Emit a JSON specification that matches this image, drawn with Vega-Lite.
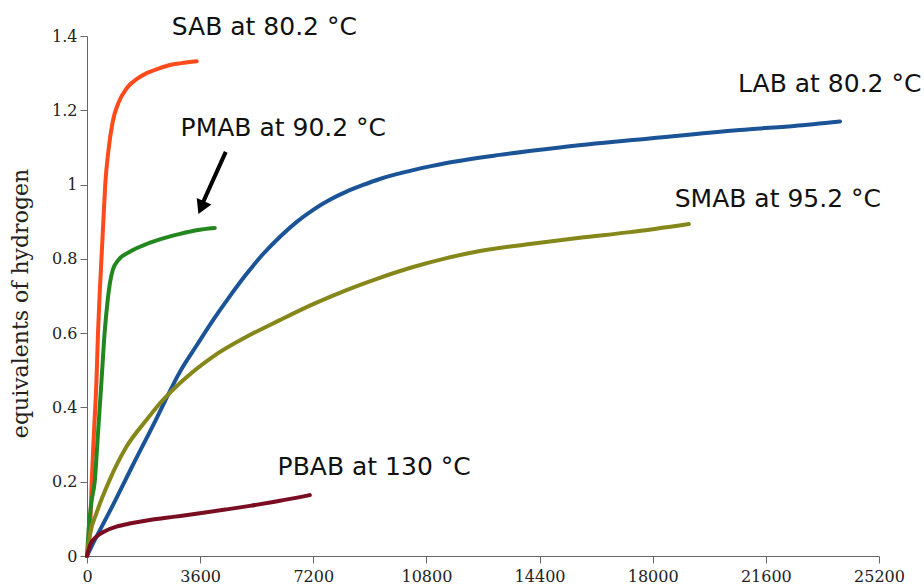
{
  "$schema": "https://vega.github.io/schema/vega-lite/v6.json",
  "width": 792,
  "height": 520,
  "autosize": "none",
  "padding": {"left": 87, "top": 36, "right": 45, "bottom": 30},
  "background": "white",
  "config": {"view": {"stroke": null}},
  "datasets": {
    "curves": [
      {"series": "SAB", "t": 0, "y": 0}, {"series": "SAB", "t": 100, "y": 0.08}, {"series": "SAB", "t": 150, "y": 0.2}, {"series": "SAB", "t": 220, "y": 0.33}, {"series": "SAB", "t": 300, "y": 0.47}, {"series": "SAB", "t": 350, "y": 0.6}, {"series": "SAB", "t": 400, "y": 0.7}, {"series": "SAB", "t": 460, "y": 0.8}, {"series": "SAB", "t": 520, "y": 0.9}, {"series": "SAB", "t": 580, "y": 1.0}, {"series": "SAB", "t": 680, "y": 1.09}, {"series": "SAB", "t": 820, "y": 1.17}, {"series": "SAB", "t": 1000, "y": 1.22}, {"series": "SAB", "t": 1270, "y": 1.26}, {"series": "SAB", "t": 1600, "y": 1.285}, {"series": "SAB", "t": 1900, "y": 1.3}, {"series": "SAB", "t": 2300, "y": 1.313}, {"series": "SAB", "t": 2640, "y": 1.322}, {"series": "SAB", "t": 3000, "y": 1.327}, {"series": "SAB", "t": 3490, "y": 1.332},
      {"series": "PMAB", "t": 0, "y": 0}, {"series": "PMAB", "t": 50, "y": 0.07}, {"series": "PMAB", "t": 150, "y": 0.15}, {"series": "PMAB", "t": 245, "y": 0.2}, {"series": "PMAB", "t": 350, "y": 0.33}, {"series": "PMAB", "t": 460, "y": 0.47}, {"series": "PMAB", "t": 560, "y": 0.6}, {"series": "PMAB", "t": 660, "y": 0.69}, {"series": "PMAB", "t": 740, "y": 0.74}, {"series": "PMAB", "t": 820, "y": 0.77}, {"series": "PMAB", "t": 1000, "y": 0.797}, {"series": "PMAB", "t": 1360, "y": 0.819}, {"series": "PMAB", "t": 1900, "y": 0.84}, {"series": "PMAB", "t": 2420, "y": 0.855}, {"series": "PMAB", "t": 3000, "y": 0.868}, {"series": "PMAB", "t": 3480, "y": 0.877}, {"series": "PMAB", "t": 4065, "y": 0.883},
      {"series": "LAB", "t": 0, "y": 0}, {"series": "LAB", "t": 200, "y": 0.035}, {"series": "LAB", "t": 722, "y": 0.12}, {"series": "LAB", "t": 1460, "y": 0.245}, {"series": "LAB", "t": 2210, "y": 0.37}, {"series": "LAB", "t": 2527, "y": 0.425}, {"series": "LAB", "t": 2951, "y": 0.495}, {"series": "LAB", "t": 3482, "y": 0.566}, {"series": "LAB", "t": 4011, "y": 0.635}, {"series": "LAB", "t": 4542, "y": 0.699}, {"series": "LAB", "t": 5073, "y": 0.759}, {"series": "LAB", "t": 5603, "y": 0.813}, {"series": "LAB", "t": 6134, "y": 0.859}, {"series": "LAB", "t": 6665, "y": 0.899}, {"series": "LAB", "t": 7196, "y": 0.932}, {"series": "LAB", "t": 7725, "y": 0.959}, {"series": "LAB", "t": 8256, "y": 0.981}, {"series": "LAB", "t": 8786, "y": 0.999}, {"series": "LAB", "t": 9317, "y": 1.015}, {"series": "LAB", "t": 9848, "y": 1.028}, {"series": "LAB", "t": 10377, "y": 1.039}, {"series": "LAB", "t": 10908, "y": 1.049}, {"series": "LAB", "t": 11440, "y": 1.058}, {"series": "LAB", "t": 13130, "y": 1.08}, {"series": "LAB", "t": 15040, "y": 1.1}, {"series": "LAB", "t": 17900, "y": 1.124}, {"series": "LAB", "t": 20770, "y": 1.147}, {"series": "LAB", "t": 22500, "y": 1.158}, {"series": "LAB", "t": 23960, "y": 1.17},
      {"series": "SMAB", "t": 0, "y": 0}, {"series": "SMAB", "t": 100, "y": 0.06}, {"series": "SMAB", "t": 300, "y": 0.115}, {"series": "SMAB", "t": 722, "y": 0.205}, {"series": "SMAB", "t": 1254, "y": 0.294}, {"series": "SMAB", "t": 1890, "y": 0.366}, {"series": "SMAB", "t": 2209, "y": 0.4}, {"series": "SMAB", "t": 2951, "y": 0.465}, {"series": "SMAB", "t": 4011, "y": 0.537}, {"series": "SMAB", "t": 5073, "y": 0.59}, {"series": "SMAB", "t": 6134, "y": 0.635}, {"series": "SMAB", "t": 7196, "y": 0.678}, {"series": "SMAB", "t": 8256, "y": 0.716}, {"series": "SMAB", "t": 9317, "y": 0.749}, {"series": "SMAB", "t": 10377, "y": 0.778}, {"series": "SMAB", "t": 11440, "y": 0.802}, {"series": "SMAB", "t": 12500, "y": 0.821}, {"series": "SMAB", "t": 14090, "y": 0.84}, {"series": "SMAB", "t": 15680, "y": 0.857}, {"series": "SMAB", "t": 17280, "y": 0.872}, {"series": "SMAB", "t": 19150, "y": 0.894},
      {"series": "PBAB", "t": 0, "y": 0}, {"series": "PBAB", "t": 100, "y": 0.03}, {"series": "PBAB", "t": 300, "y": 0.052}, {"series": "PBAB", "t": 600, "y": 0.068}, {"series": "PBAB", "t": 935, "y": 0.079}, {"series": "PBAB", "t": 1400, "y": 0.088}, {"series": "PBAB", "t": 1995, "y": 0.097}, {"series": "PBAB", "t": 2800, "y": 0.106}, {"series": "PBAB", "t": 3590, "y": 0.115}, {"series": "PBAB", "t": 4400, "y": 0.125}, {"series": "PBAB", "t": 5180, "y": 0.135}, {"series": "PBAB", "t": 6100, "y": 0.148}, {"series": "PBAB", "t": 7090, "y": 0.164}
    ],
    "labels": [
      {"label": "SAB at 80.2 °C", "t": 2697, "y": 1.403},
      {"label": "PMAB at 90.2 °C", "t": 2978, "y": 1.131},
      {"label": "LAB at 80.2 °C", "t": 20716, "y": 1.249},
      {"label": "SMAB at 95.2 °C", "t": 18700, "y": 0.94},
      {"label": "PBAB at 130 °C", "t": 6064, "y": 0.218}
    ],
    "arrow": [
      {"t": 4415, "y": 1.088, "t2": 3680, "y2": 0.95}
    ],
    "arrowhead": [
      {"t": 3635, "y": 0.938}
    ]
  },
  "layer": [
    {
      "data": {"name": "curves"},
      "mark": {"type": "line", "strokeWidth": 4, "interpolate": "monotone", "strokeCap": "round"},
      "encoding": {
        "x": {"field": "t", "type": "quantitative",
          "scale": {"domain": [0, 25200], "nice": false, "zero": false},
          "axis": {"values": [0, 3600, 7200, 10800, 14400, 18000, 21600, 25200], "format": "d", "title": null, "grid": false,
            "domainColor": "#666", "tickColor": "#666", "tickSize": 7, "labelFont": "DejaVu Serif", "labelFontSize": 16, "labelColor": "#222", "labelPadding": 5, "labelFlush": false}},
        "y": {"field": "y", "type": "quantitative",
          "scale": {"domain": [0, 1.4], "nice": false},
          "axis": {"values": [0, 0.2, 0.4, 0.6, 0.8, 1, 1.2, 1.4], "format": "~g", "title": "equivalents of hydrogen", "grid": false,
            "domainColor": "#666", "tickColor": "#666", "tickSize": 7, "labelFont": "DejaVu Serif", "labelFontSize": 16, "labelColor": "#222", "labelPadding": 3,
            "titleFont": "DejaVu Serif", "titleFontSize": 22, "titleFontWeight": "normal", "titleColor": "#222",
            "titleX": -67, "titleY": 267, "titleAlign": "center", "titleBaseline": "middle", "titleAngle": -90}},
        "color": {"field": "series", "type": "nominal",
          "scale": {"domain": ["SAB", "PMAB", "LAB", "SMAB", "PBAB"], "range": ["#ff4a1c", "#23871f", "#1b5496", "#86871a", "#7a0d22"]},
          "legend": null},
        "detail": {"field": "series"}
      }
    },
    {
      "data": {"name": "labels"},
      "mark": {"type": "text", "font": "DejaVu Sans", "fontSize": 25, "align": "left", "baseline": "alphabetic", "color": "#111"},
      "encoding": {
        "x": {"field": "t", "type": "quantitative"},
        "y": {"field": "y", "type": "quantitative"},
        "text": {"field": "label"}
      }
    },
    {
      "data": {"name": "arrow"},
      "mark": {"type": "rule", "strokeWidth": 4, "color": "black"},
      "encoding": {
        "x": {"field": "t", "type": "quantitative"},
        "y": {"field": "y", "type": "quantitative"},
        "x2": {"field": "t2"},
        "y2": {"field": "y2"}
      }
    },
    {
      "data": {"name": "arrowhead"},
      "mark": {"type": "point", "shape": "triangle-down", "filled": true, "color": "black", "size": 260, "angle": 24, "opacity": 1},
      "encoding": {
        "x": {"field": "t", "type": "quantitative"},
        "y": {"field": "y", "type": "quantitative"}
      }
    }
  ]
}
